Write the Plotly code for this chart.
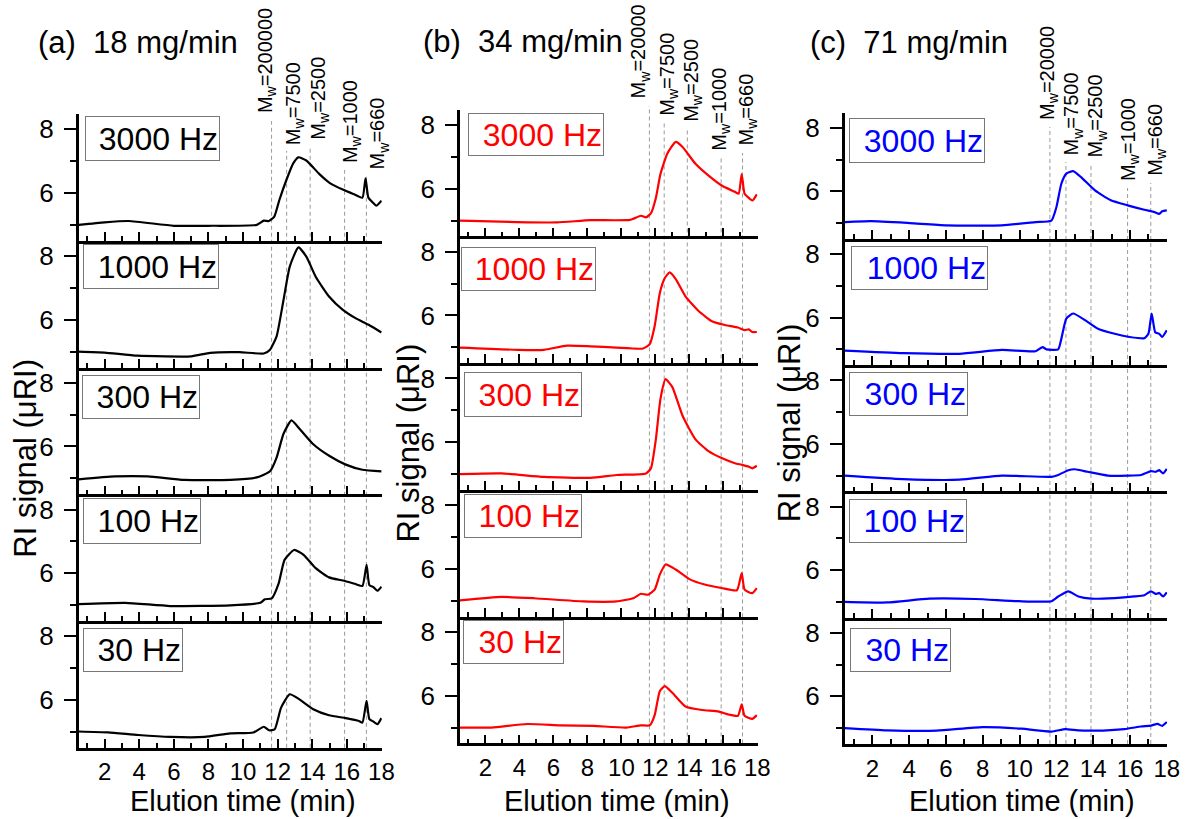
import plotly.graph_objects as go

# ---------------- data ----------------
freq_labels = ["3000 Hz", "1000 Hz", "300 Hz", "100 Hz", "30 Hz"]
panel_titles = ["(a)\u00a0 18 mg/min", "(b)\u00a0 34 mg/min", "(c)\u00a0 71 mg/min"]
mw_labels_a = ["200000", "7500", "2500", "1000", "660"]
mw_labels = ["20000", "7500", "2500", "1000", "660"]
mw_times = [11.65, 12.52, 13.88, 15.87, 17.13]
x_ticks = [2, 4, 6, 8, 10, 12, 14, 16, 18]

# (a) 18 mg/min
t_a3000 = [0.5, 2, 3.4, 6, 8, 10.8, 11.2, 11.5, 11.8, 12.1, 12.5, 12.9, 13.2, 13.66, 14.4, 15.0, 15.8, 16.5, 16.9, 17.08, 17.24, 17.5, 17.7, 18.0]
ri_a3000 = [5.0, 5.08, 5.12, 4.97, 4.97, 5.0, 5.13, 5.12, 5.25, 5.78, 6.4, 6.93, 7.12, 7.02, 6.6, 6.32, 6.1, 5.94, 5.85, 6.46, 5.86, 5.7, 5.6, 5.76]
t_a1000 = [0.5, 2, 3.9, 7.0, 8.1, 9.8, 11.2, 11.56, 11.94, 12.34, 12.7, 13.2, 13.66, 14.2, 14.97, 15.77, 16.5, 17.26, 18.0]
ri_a1000 = [5.0, 4.97, 4.87, 4.85, 4.96, 4.98, 4.94, 5.06, 5.48, 6.62, 7.67, 8.27, 7.98, 7.35, 6.73, 6.31, 6.05, 5.84, 5.6]
t_a300 = [0.5, 2.6, 4.5, 6.6, 9.26, 10.8, 11.56, 11.94, 12.34, 12.8, 13.26, 14.06, 15.0, 15.94, 16.9, 18.0]
ri_a300 = [4.97, 5.06, 5.06, 4.95, 4.95, 5.03, 5.22, 5.65, 6.4, 6.82, 6.56, 6.07, 5.7, 5.43, 5.27, 5.22]
t_a100 = [0.5, 3.2, 5.8, 9.26, 11.0, 11.26, 11.66, 12.06, 12.4, 12.95, 13.5, 14.2, 14.97, 15.77, 16.5, 16.9, 17.14, 17.3, 17.54, 17.77, 18.0]
ri_a100 = [5.03, 5.07, 4.97, 4.99, 5.07, 5.18, 5.21, 5.68, 6.42, 6.73, 6.58, 6.16, 5.87, 5.77, 5.66, 5.6, 6.26, 5.63, 5.56, 5.45, 5.58]
t_a30 = [0.5, 2.2, 3.94, 5.8, 7.77, 9.26, 10.6, 11.2, 11.5, 11.83, 12.2, 12.7, 13.26, 14.06, 14.97, 15.94, 16.7, 16.9, 17.14, 17.3, 17.54, 17.77, 18.0]
ri_a30 = [5.01, 4.98, 4.9, 4.84, 4.84, 4.95, 4.98, 5.16, 5.05, 5.08, 5.76, 6.18, 6.02, 5.71, 5.52, 5.43, 5.34, 5.29, 5.97, 5.4, 5.32, 5.24, 5.43]

# (b) 34 mg/min
t_b3000 = [0.5, 3.88, 6.2, 8.18, 10.5, 11.15, 11.45, 11.74, 12.03, 12.3, 12.7, 13.2, 13.6, 14.36, 15.15, 15.9, 16.68, 16.9, 17.08, 17.25, 17.5, 17.72, 17.97]
ri_b3000 = [5.0, 4.95, 4.94, 5.01, 5.02, 5.15, 5.1, 5.23, 5.71, 6.46, 7.1, 7.47, 7.31, 6.78, 6.4, 6.1, 5.9, 5.84, 6.46, 5.84, 5.71, 5.63, 5.82]
t_b1000 = [0.5, 3.88, 5.45, 6.8, 8.18, 9.7, 11.27, 11.67, 11.96, 12.26, 12.55, 12.84, 13.2, 13.77, 14.56, 15.33, 16.1, 16.86, 17.25, 17.5, 17.7, 17.97]
ri_b1000 = [4.99, 4.92, 4.92, 5.05, 5.03, 4.99, 4.96, 5.1, 5.67, 6.7, 7.17, 7.35, 7.14, 6.6, 6.13, 5.82, 5.7, 5.62, 5.54, 5.56, 5.48, 5.48]
t_b300 = [0.5, 2.95, 5.45, 8.18, 9.7, 11.45, 11.74, 12.03, 12.3, 12.6, 13.0, 13.6, 14.36, 15.15, 15.9, 16.68, 17.08, 17.5, 17.7, 17.97]
ri_b300 = [5.0, 5.02, 4.91, 4.88, 4.97, 5.02, 5.18, 6.09, 7.36, 7.98, 7.73, 6.83, 6.09, 5.71, 5.5, 5.34, 5.29, 5.23, 5.18, 5.26]
t_b100 = [0.5, 2.95, 4.87, 7.77, 9.7, 10.7, 11.15, 11.55, 11.96, 12.26, 12.6, 13.2, 14.0, 14.9, 15.9, 16.8, 17.08, 17.25, 17.7, 17.97]
ri_b100 = [5.01, 5.12, 5.08, 4.98, 4.98, 5.08, 5.22, 5.19, 5.35, 5.82, 6.14, 5.98, 5.68, 5.51, 5.4, 5.33, 5.87, 5.35, 5.24, 5.4]
t_b30 = [0.5, 2.36, 4.45, 6.4, 8.36, 10.28, 11.15, 11.67, 11.96, 12.26, 12.55, 13.0, 13.77, 14.75, 15.74, 16.3, 16.86, 17.08, 17.25, 17.7, 17.97]
ri_b30 = [5.0, 5.0, 5.11, 5.07, 5.05, 5.0, 5.07, 5.07, 5.39, 6.14, 6.3, 6.09, 5.66, 5.55, 5.5, 5.41, 5.37, 5.73, 5.37, 5.27, 5.39]

# (c) 71 mg/min
t_c3000 = [0.5, 1.9, 4.04, 6.03, 9.04, 10.87, 11.73, 12.0, 12.27, 12.54, 12.91, 13.34, 14.1, 14.96, 15.87, 16.78, 17.32, 17.59, 17.75, 18.0]
ri_c3000 = [5.03, 5.06, 5.0, 4.93, 4.93, 5.03, 5.08, 5.5, 6.24, 6.56, 6.64, 6.45, 6.03, 5.72, 5.56, 5.42, 5.35, 5.29, 5.37, 5.4]
t_c1000 = [0.5, 3.67, 6.73, 9.04, 10.87, 11.25, 11.46, 12.1, 12.27, 12.54, 12.91, 13.56, 14.26, 15.17, 15.98, 16.78, 17.0, 17.18, 17.37, 17.59, 17.75, 18.0]
ri_c1000 = [4.96, 4.88, 4.86, 4.98, 4.94, 5.07, 5.0, 5.0, 5.33, 5.97, 6.13, 5.92, 5.65, 5.49, 5.39, 5.35, 5.49, 6.13, 5.54, 5.49, 5.39, 5.6]
t_c300 = [0.5, 3.67, 6.73, 9.04, 11.73, 12.1, 12.65, 13.0, 13.7, 14.8, 15.87, 16.6, 17.14, 17.4, 17.59, 17.8, 18.0]
ri_c300 = [5.0, 4.89, 4.87, 5.0, 4.96, 5.02, 5.17, 5.2, 5.12, 5.0, 5.0, 5.02, 5.14, 5.12, 5.17, 5.07, 5.21]
t_c100 = [0.5, 2.8, 5.1, 7.6, 9.96, 11.73, 12.1, 12.65, 13.2, 13.9, 15.17, 16.24, 16.78, 17.14, 17.4, 17.59, 17.8, 18.0]
ri_c100 = [5.0, 4.98, 5.1, 5.09, 5.02, 5.02, 5.17, 5.33, 5.17, 5.1, 5.12, 5.17, 5.21, 5.33, 5.25, 5.28, 5.17, 5.3]
t_c30 = [0.5, 2.8, 5.5, 7.97, 10.1, 11.73, 12.48, 13.18, 14.1, 15.7, 16.6, 17.14, 17.5, 17.75, 18.0]
ri_c30 = [5.0, 4.93, 4.92, 5.03, 4.98, 4.89, 4.97, 4.93, 4.92, 4.97, 5.05, 5.08, 5.13, 5.07, 5.19]

series = [
    [(t_a3000, ri_a3000), (t_a1000, ri_a1000), (t_a300, ri_a300), (t_a100, ri_a100), (t_a30, ri_a30)],
    [(t_b3000, ri_b3000), (t_b1000, ri_b1000), (t_b300, ri_b300), (t_b100, ri_b100), (t_b30, ri_b30)],
    [(t_c3000, ri_c3000), (t_c1000, ri_c1000), (t_c300, ri_c300), (t_c100, ri_c100), (t_c30, ri_c30)],
]

# ---------------- layout geometry (pixels) ----------------
W, H = 1195, 819
FONT = "Liberation Sans, Arial, sans-serif"
colors = ["#000000", "#ff0000", "#0000ff"]
x_dom_px = [(79.5, 386), (465, 766), (854, 1180)]
row_top_px = [114, 109.7, 112.7]
row_pitch_px = [126.75, 126.75, 126.25]
x_range = [0.5, 18.02]
y_range = [4.5, 8.48]

title_pos = [(36, 42), (426, 41), (817, 42)]
xtitle_pos = [(246, 801), (624, 801), (1033, 801)]
ytitle_pos = [(25, 458), (412, 443), (798, 423)]

box_px = [
    [(86, 116, 137, 45), (84, 244, 138, 45), (83, 375, 120, 44), (84, 498, 120, 46), (84, 628, 102, 44)],
    [(473, 113, 138, 43), (466, 247, 137, 44), (469, 372, 120, 45), (469, 494, 120, 44), (468, 620, 103, 44)],
    [(858, 118, 138, 45), (860, 246, 139, 44), (858, 372, 121, 44), (858, 499, 120, 44), (859, 628, 103, 44)],
]
label_bottom_px = [[115, 147, 142, 165, 171], [100, 118, 124, 153, 148], [122, 157, 159, 183, 178]]
line_top_px = [[121, 151, 147, 170, 176], [106, 123, 129, 158, 153], [127, 162, 164, 188, 183]]
label_shift_px = [[-5, 8, 9, 7, 12], [-10, 4, 5, -1, 4], [-2, 7, 6, 2, 5]]


def px_x(v):
    return v / W


def px_y(v):
    return 1 - v / H


fig = go.Figure()
layout = dict(
    width=W, height=H,
    margin=dict(l=0, r=0, t=0, b=0),
    paper_bgcolor="white", plot_bgcolor="rgba(0,0,0,0)",
    font=dict(family=FONT, color="black"),
    showlegend=False,
)
annotations = []
shapes = []

for p in range(3):
    x0, x1 = x_dom_px[p]
    for r in range(5):
        idx = p * 5 + r + 1
        sfx = "" if idx == 1 else str(idx)
        top = row_top_px[p] + r * row_pitch_px[p]
        bot = top + row_pitch_px[p]
        xs, ys = series[p][r]
        fig.add_trace(go.Scatter(
            x=xs, y=ys, mode="lines",
            line=dict(color=colors[p], width=2.2, shape="spline", smoothing=0.5),
            xaxis="x" + sfx, yaxis="y" + sfx, hoverinfo="skip", showlegend=False,
        ))
        is_bottom = (r == 4)
        layout["xaxis" + sfx] = dict(
            domain=[px_x(x0), px_x(x1)], anchor="y" + sfx, range=x_range,
            showgrid=False, zeroline=False, showline=True, linecolor="black", linewidth=2.5,
            ticks="inside", ticklen=9, tickwidth=2, tickcolor="black",
            tickmode="array", tickvals=x_ticks,
            minor=dict(ticks="inside", ticklen=5, tickwidth=2, tickcolor="black", dtick=1, tick0=1, showgrid=False),
            showticklabels=is_bottom, tickfont=dict(size=24, family=FONT, color="black"),
            ticklabelstandoff=1, fixedrange=True,
        )
        layout["yaxis" + sfx] = dict(
            domain=[px_y(bot), px_y(top)], anchor="x" + sfx, range=y_range,
            showgrid=False, zeroline=False, showline=True, linecolor="black", linewidth=2.5,
            ticks="outside", ticklen=12, tickwidth=2, tickcolor="black",
            tickmode="array", tickvals=[6, 8],
            minor=dict(ticks="outside", ticklen=6, tickwidth=2, tickcolor="black", tickvals=[5, 7], showgrid=False),
            tickfont=dict(size=26, family=FONT, color="black"),
            ticklabelstandoff=5, fixedrange=True,
        )
        # frequency box label
        bx, by, bw, bh = box_px[p][r]
        annotations.append(dict(
            xref="paper", yref="paper", x=px_x(bx), y=px_y(by), xanchor="left", yanchor="top",
            text=freq_labels[r], showarrow=False, align="right", valign="middle",
            width=bw - 6, height=bh - 4, borderpad=1, borderwidth=1, bordercolor="#777777",
            bgcolor="white", font=dict(size=32, family=FONT, color=colors[p]),
        ))

    bottom_idx = p * 5 + 5
    panel_bottom = row_top_px[p] + 5 * row_pitch_px[p]
    labels = mw_labels_a if p == 0 else mw_labels
    for k, t in enumerate(mw_times):
        shapes.append(dict(
            type="line", xref="x%d" % bottom_idx, yref="paper",
            x0=t, x1=t, y0=px_y(panel_bottom), y1=px_y(line_top_px[p][k]),
            line=dict(color="#9a9a9a", width=1, dash="4px,3px"), layer="below",
        ))
        annotations.append(dict(
            xref="x%d" % bottom_idx, yref="paper", x=t, y=px_y(label_bottom_px[p][k]),
            xanchor="center", yanchor="bottom", xshift=label_shift_px[p][k],
            text="M<sub>w</sub>=" + labels[k], textangle=-90, showarrow=False,
            font=dict(size=20, family=FONT, color="black"),
        ))

    tx, ty = title_pos[p]
    annotations.append(dict(
        xref="paper", yref="paper", x=px_x(tx), y=px_y(ty), xanchor="left", yanchor="middle",
        text=panel_titles[p], showarrow=False, font=dict(size=31, family=FONT, color="black"),
    ))
    ex, ey = xtitle_pos[p]
    annotations.append(dict(
        xref="paper", yref="paper", x=px_x(ex), y=px_y(ey), xanchor="center", yanchor="middle",
        text="Elution time (min)", showarrow=False, font=dict(size=29, family=FONT, color="black"),
    ))
    yx, yy = ytitle_pos[p]
    annotations.append(dict(
        xref="paper", yref="paper", x=px_x(yx), y=px_y(yy), xanchor="center", yanchor="middle",
        text="RI signal (\u03bcRI)", textangle=-90, showarrow=False,
        font=dict(size=31, family=FONT, color="black"),
    ))

layout["annotations"] = annotations
layout["shapes"] = shapes
fig.update_layout(**layout)
fig.write_html("out.html")
